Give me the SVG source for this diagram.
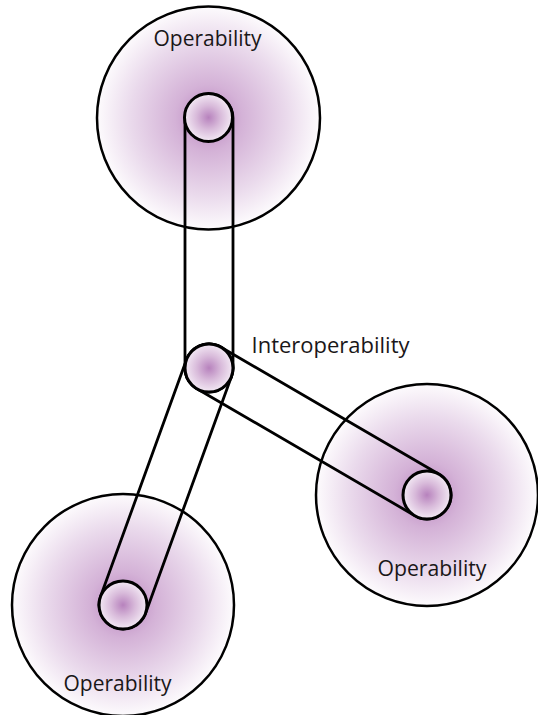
<svg xmlns="http://www.w3.org/2000/svg" width="538" height="715" viewBox="0 0 538 715">
  <defs>
    <radialGradient id="glow" cx="0.5" cy="0.5" r="0.5">
      <stop offset="0" stop-color="#b983be"/>
      <stop offset="0.3" stop-color="#d4b2d7"/>
      <stop offset="0.7" stop-color="#eadaec"/>
      <stop offset="1" stop-color="#fdfbfd"/>
    </radialGradient>
    <radialGradient id="glowSmall" cx="0.5" cy="0.5" r="0.5">
      <stop offset="0" stop-color="#b782bd"/>
      <stop offset="0.5" stop-color="#d8bada"/>
      <stop offset="1" stop-color="#f3e9f4"/>
    </radialGradient>
  </defs>
  <style>
    .big { fill: url(#glow); stroke: #000; stroke-width: 2.5; }
    .hub { fill: url(#glowSmall); stroke: #000; stroke-width: 3; }
    .link { fill: none; stroke: #000; stroke-width: 2.8; }
    .label { font-family: "Open Sans", "Noto Sans", sans-serif; font-size: 22px; fill: #1a1718; }
  </style>

  <g id="operability-top">
    <circle class="big" cx="208.5" cy="118" r="111.5"/>
    <text class="label" x="207.5" y="46" text-anchor="middle" textLength="108" lengthAdjust="spacingAndGlyphs">Operability</text>
  </g>
  <g id="operability-right">
    <circle class="big" cx="427" cy="495" r="111"/>
    <text class="label" x="432" y="576" text-anchor="middle" textLength="109" lengthAdjust="spacingAndGlyphs">Operability</text>
  </g>
  <g id="operability-bottom-left">
    <circle class="big" cx="123" cy="605" r="111"/>
    <text class="label" x="117.5" y="691" text-anchor="middle" textLength="108" lengthAdjust="spacingAndGlyphs">Operability</text>
  </g>

  <g id="connectors">
    <rect class="link" x="-24" y="-24" width="298" height="48" rx="24" transform="translate(209 368) rotate(-90)"/>
    <rect class="link" x="-24" y="-24" width="300.3" height="48" rx="24" transform="translate(209 368) rotate(30.22)"/>
    <rect class="link" x="-24" y="-24" width="300.1" height="48" rx="24" transform="translate(209 368) rotate(109.94)"/>
  </g>

  <g id="hub-top">
    <circle class="hub" cx="208.5" cy="117.5" r="24"/>
  </g>
  <g id="hub-right">
    <circle class="hub" cx="427" cy="495" r="24"/>
  </g>
  <g id="hub-bottom-left">
    <circle class="hub" cx="123" cy="605" r="24"/>
  </g>
  <g id="interoperability">
    <circle class="hub" cx="209" cy="368" r="24"/>
    <text class="label" x="251.5" y="353" textLength="158" lengthAdjust="spacingAndGlyphs">Interoperability</text>
  </g>
</svg>
